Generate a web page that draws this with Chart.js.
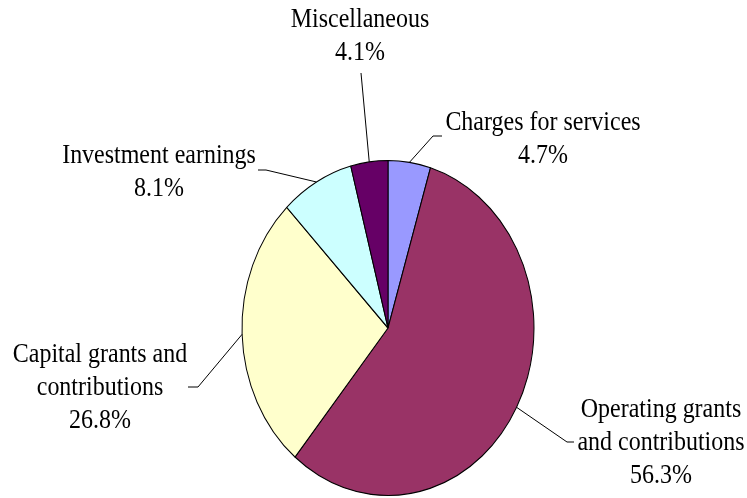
<!DOCTYPE html>
<html>
<head>
<meta charset="utf-8">
<script src="https://cdn.jsdelivr.net/npm/chart.js@4/dist/chart.umd.min.js"></script>
<style>
  html, body { margin: 0; padding: 0; background: #ffffff; }
  #wrap { width: 747px; height: 498px; }
</style>
</head>
<body>
<div id="wrap"><canvas id="c" width="747" height="498"></canvas></div>
<script>
// ---- data ----
const categories = ['Charges for services', 'Operating grants and contributions', 'Capital grants and contributions', 'Investment earnings', 'Miscellaneous'];
const labelLines = [['Charges for services'], ['Operating grants', 'and contributions'], ['Capital grants and', 'contributions'], ['Investment earnings'], ['Miscellaneous']];
const values = [4.7, 56.3, 26.8, 8.1, 4.1];
const colors = ['#9999FF', '#993366', '#FFFFCC', '#CCFFFF', '#660066'];

// ---- layout (positions / styles) ----
const RADIUS_X = 146;
const Y_STRETCH = 167.5 / 146;
const labelLayout = [
  { x: 543, y: 130, elbow: [433, 136], tick: [442, 136] },
  { x: 661, y: 417, elbow: [567, 442], tick: [574, 442] },
  { x: 100, y: 362, elbow: [198, 387], tick: [188, 387] },
  { x: 159, y: 163, elbow: [266, 170], tick: [258, 170] },
  { x: 360, y: 27,  elbow: [361, 73],  tick: null }
];
const LINE_H = 33;
const FONT = '27.5px "Liberation Serif", "Times New Roman", serif';

const ellipsePlugin = {
  id: 'ellipse',
  beforeDatasetsDraw(chart) {
    const arc = chart.getDatasetMeta(0).data[0];
    const ctx = chart.ctx;
    ctx.save();
    ctx.translate(arc.x, arc.y);
    ctx.scale(1, Y_STRETCH);
    ctx.translate(-arc.x, -arc.y);
  },
  afterDatasetsDraw(chart) {
    chart.ctx.restore();
  }
};

const labelPlugin = {
  id: 'leaderLabels',
  afterDraw(chart) {
    const ctx = chart.ctx;
    const meta = chart.getDatasetMeta(0);
    const vals = chart.data.datasets[0].data;
    ctx.save();
    meta.data.forEach((arc, i) => {
      const mid = (arc.startAngle + arc.endAngle) / 2;
      const px = arc.x + arc.outerRadius * Math.cos(mid);
      const py = arc.y + arc.outerRadius * Y_STRETCH * Math.sin(mid);
      const L = labelLayout[i];
      ctx.strokeStyle = '#000000';
      ctx.lineWidth = 1;
      ctx.beginPath();
      ctx.moveTo(px, py);
      ctx.lineTo(L.elbow[0], L.elbow[1]);
      if (L.tick) ctx.lineTo(L.tick[0], L.tick[1]);
      ctx.stroke();
      ctx.fillStyle = '#000000';
      ctx.font = FONT;
      ctx.textAlign = 'center';
      ctx.textBaseline = 'alphabetic';
      const lines = labelLines[i].concat([vals[i].toFixed(1) + '%']);
      lines.forEach((t, k) => {
        ctx.save();
        ctx.translate(L.x, L.y + k * LINE_H);
        ctx.scale(1 / Y_STRETCH, 1);
        ctx.fillText(t, 0, 0);
        ctx.restore();
      });
    });
    ctx.restore();
  }
};

new Chart(document.getElementById('c'), {
  type: 'pie',
  data: {
    labels: categories,
    datasets: [{
      data: values,
      backgroundColor: colors,
      borderColor: '#000000',
      borderWidth: 1,
      radius: RADIUS_X
    }]
  },
  options: {
    responsive: false,
    animation: false,
    devicePixelRatio: 1,
    layout: { padding: { left: 29, right: 0, top: 160, bottom: 2 } },
    plugins: {
      legend: { display: false },
      tooltip: { enabled: false },
      title: { display: false }
    }
  },
  plugins: [ellipsePlugin, labelPlugin]
});
</script>
</body>
</html>
